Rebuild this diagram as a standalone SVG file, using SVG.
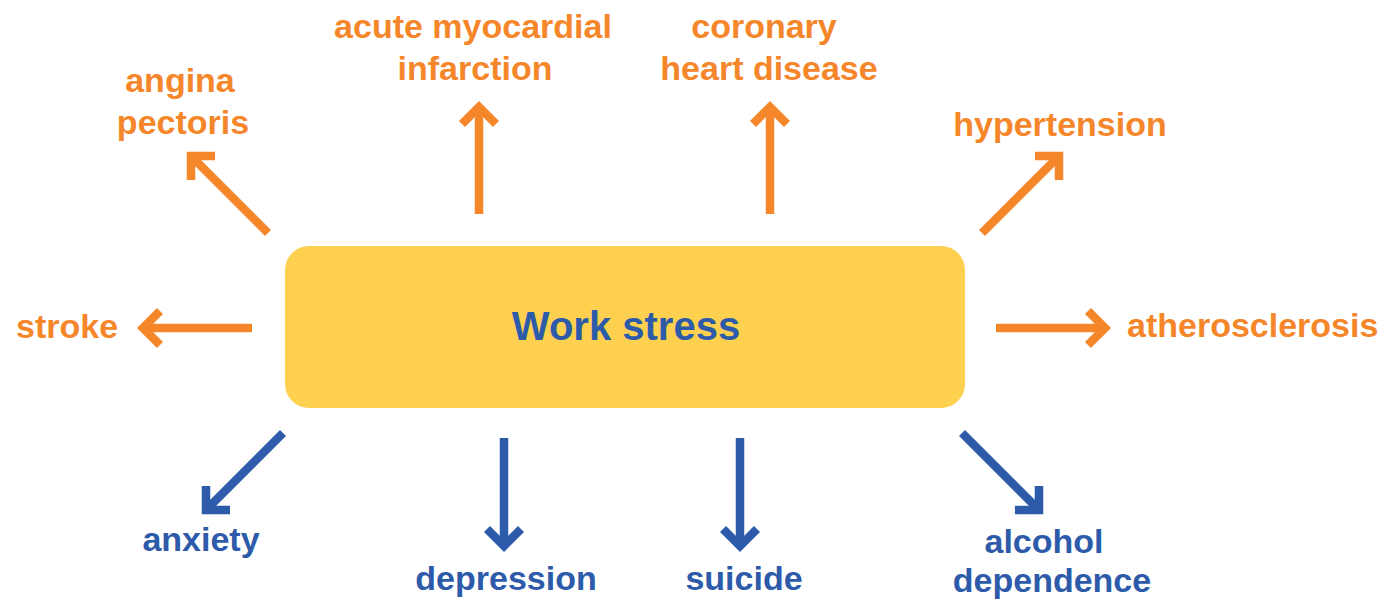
<svg xmlns="http://www.w3.org/2000/svg" width="1385" height="601" viewBox="0 0 1385 601">
<style>
.t{font-family:"Liberation Sans",Arial,sans-serif;font-weight:bold;font-size:34px;text-anchor:middle}
.o{fill:#F5862A}
.b{fill:#2D5BAA}
.ao{stroke:#F5862A;stroke-width:8.5;fill:none;marker-end:url(#mo)}
.ab{stroke:#2D5BAA;stroke-width:8.5;fill:none;marker-end:url(#mb)}
</style>
<defs>
<marker id="mo" markerUnits="userSpaceOnUse" markerWidth="40" markerHeight="40" viewBox="-30 -20 40 40" refX="0" refY="0" orient="auto" overflow="visible">
<path d="M-17 -17 L0 0 L-17 17" fill="none" stroke="#F5862A" stroke-width="8.5" stroke-linejoin="miter"/>
</marker>
<marker id="mb" markerUnits="userSpaceOnUse" markerWidth="40" markerHeight="40" viewBox="-30 -20 40 40" refX="0" refY="0" orient="auto" overflow="visible">
<path d="M-17 -17 L0 0 L-17 17" fill="none" stroke="#2D5BAA" stroke-width="8.5" stroke-linejoin="miter"/>
</marker>
</defs>
<rect width="1385" height="601" fill="#fff"/>
<g id="work-stress">
<rect x="285" y="246" width="680" height="162" rx="24" fill="#FDD14F"/>
<text class="t b" x="626" y="340" style="font-size:40px">Work stress</text>
</g>
<g id="connectors">
<path class="ao" d="M268 233 L191 156"/>
<path class="ao" d="M479 214 L479 107"/>
<path class="ao" d="M770 214 L770 107"/>
<path class="ao" d="M982 233 L1059 156"/>
<path class="ao" d="M252 328 L143 328"/>
<path class="ao" d="M996 328 L1105 328"/>
<path class="ab" d="M283 433 L206 510"/>
<path class="ab" d="M504 438 L504 546"/>
<path class="ab" d="M740 438 L740 546"/>
<path class="ab" d="M962 433 L1039 510"/>
</g>
<g id="angina-pectoris"><text class="t o" x="180" y="92">angina</text><text class="t o" x="183" y="134">pectoris</text></g>
<g id="acute-myocardial-infarction"><text class="t o" x="473" y="38">acute myocardial</text><text class="t o" x="475" y="80">infarction</text></g>
<g id="coronary-heart-disease"><text class="t o" x="764" y="38">coronary</text><text class="t o" x="769" y="80">heart disease</text></g>
<g id="hypertension"><text class="t o" x="1060" y="136">hypertension</text></g>
<g id="stroke"><text class="t o" x="16" y="338" style="text-anchor:start">stroke</text></g>
<g id="atherosclerosis"><text class="t o" x="1127" y="337" style="text-anchor:start">atherosclerosis</text></g>
<g id="anxiety"><text class="t b" x="201" y="551">anxiety</text></g>
<g id="depression"><text class="t b" x="506" y="590">depression</text></g>
<g id="suicide"><text class="t b" x="744" y="590">suicide</text></g>
<g id="alcohol-dependence"><text class="t b" x="1044" y="553">alcohol</text><text class="t b" x="1052" y="592">dependence</text></g>
</svg>
